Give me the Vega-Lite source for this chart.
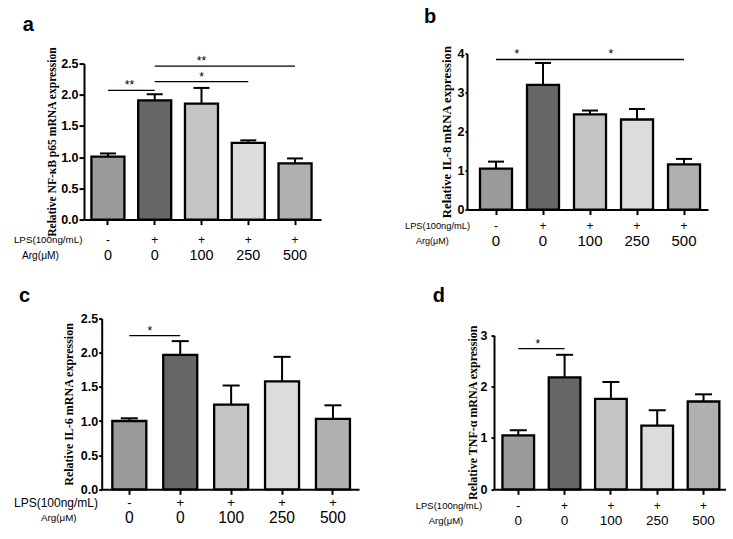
{
  "$schema": "https://vega.github.io/schema/vega-lite/v6.json",
  "padding": {"left": 13, "top": 6.6, "right": 0, "bottom": 0},
  "background": "white",
  "datasets": {
    "bars": [
      {"panel": "a", "cond": "-/0", "lps": "-", "arg": "0", "mean": 1.01, "upper": 1.06},
      {"panel": "a", "cond": "+/0", "lps": "+", "arg": "0", "mean": 1.91, "upper": 2.01},
      {"panel": "a", "cond": "+/100", "lps": "+", "arg": "100", "mean": 1.86, "upper": 2.11},
      {"panel": "a", "cond": "+/250", "lps": "+", "arg": "250", "mean": 1.23, "upper": 1.27},
      {"panel": "a", "cond": "+/500", "lps": "+", "arg": "500", "mean": 0.9, "upper": 0.98},
      {"panel": "b", "cond": "-/0", "lps": "-", "arg": "0", "mean": 1.05, "upper": 1.23},
      {"panel": "b", "cond": "+/0", "lps": "+", "arg": "0", "mean": 3.2, "upper": 3.76},
      {"panel": "b", "cond": "+/100", "lps": "+", "arg": "100", "mean": 2.44, "upper": 2.54},
      {"panel": "b", "cond": "+/250", "lps": "+", "arg": "250", "mean": 2.31, "upper": 2.58},
      {"panel": "b", "cond": "+/500", "lps": "+", "arg": "500", "mean": 1.16, "upper": 1.3},
      {"panel": "c", "cond": "-/0", "lps": "-", "arg": "0", "mean": 1.0, "upper": 1.04},
      {"panel": "c", "cond": "+/0", "lps": "+", "arg": "0", "mean": 1.97, "upper": 2.17},
      {"panel": "c", "cond": "+/100", "lps": "+", "arg": "100", "mean": 1.24, "upper": 1.52},
      {"panel": "c", "cond": "+/250", "lps": "+", "arg": "250", "mean": 1.58, "upper": 1.94},
      {"panel": "c", "cond": "+/500", "lps": "+", "arg": "500", "mean": 1.03, "upper": 1.23},
      {"panel": "d", "cond": "-/0", "lps": "-", "arg": "0", "mean": 1.05, "upper": 1.15},
      {"panel": "d", "cond": "+/0", "lps": "+", "arg": "0", "mean": 2.18, "upper": 2.62},
      {"panel": "d", "cond": "+/100", "lps": "+", "arg": "100", "mean": 1.76, "upper": 2.09},
      {"panel": "d", "cond": "+/250", "lps": "+", "arg": "250", "mean": 1.24, "upper": 1.54},
      {"panel": "d", "cond": "+/500", "lps": "+", "arg": "500", "mean": 1.71, "upper": 1.85}
    ],
    "sig": [
      {"panel": "a", "cond": "-/0", "cond2": "+/0", "yv": 2.07, "label": "**", "star": "-/0", "between": true},
      {"panel": "a", "cond": "+/0", "cond2": "+/250", "yv": 2.21, "label": "*", "star": "+/100", "between": false},
      {"panel": "a", "cond": "+/0", "cond2": "+/500", "yv": 2.46, "label": "**", "star": "+/100", "between": false},
      {"panel": "b", "cond": "-/0", "cond2": "+/0", "yv": 3.85, "label": "*", "star": "-/0", "between": true},
      {"panel": "b", "cond": "+/0", "cond2": "+/500", "yv": 3.85, "label": "*", "star": "+/100", "between": true},
      {"panel": "c", "cond": "-/0", "cond2": "+/0", "yv": 2.25, "label": "*", "star": "-/0", "between": true},
      {"panel": "d", "cond": "-/0", "cond2": "+/0", "yv": 2.74, "label": "*", "star": "-/0", "between": true}
    ],
    "heads": [
      {"panel": "a", "letter": "a", "lps": "LPS(100ng/mL)", "arg": "Arg(μM)"},
      {"panel": "b", "letter": "b", "lps": "LPS(100ng/mL)", "arg": "Arg(μM)"},
      {"panel": "c", "letter": "c", "lps": "LPS(100ng/mL)", "arg": "Arg(μM)"},
      {"panel": "d", "letter": "d", "lps": "LPS(100ng/mL)", "arg": "Arg(μM)"}
    ]
  },
  "align": "none",
  "spacing": 23,
  "vconcat": [
    {
      "align": "none",
      "spacing": 84,
      "hconcat": [
        {
          "width": 237,
          "height": 166,
          "resolve": {"axis": {"y": "independent"}},
          "layer": [
            {
              "data": {"name": "bars"},
              "transform": [{"filter": "datum.panel === 'a'"}],
              "resolve": {"axis": {"y": "independent"}},
              "layer": [
                {
                  "mark": {"type": "bar", "stroke": "black", "strokeWidth": 2.3},
                  "encoding": {
                    "x": {"field": "cond", "type": "nominal", "title": null,
                      "scale": {"domain": ["-/0", "+/0", "+/100", "+/250", "+/500"], "paddingInner": 0.294, "paddingOuter": 0.18, "align": 0.44},
                      "axis": {"labels": false, "tickSize": 5}},
                    "y": {"field": "mean", "type": "quantitative",
                      "scale": {"domain": [0, 2.5], "range": [166, 10], "nice": false},
                      "axis": {"title": "Relative NF-κB p65  mRNA expression", "values": [0, 0.5, 1, 1.5, 2, 2.5], "format": ".1f", "labelOverlap": false, "tickSize": 5, "labelPadding": 1, "titlePadding": 3, "titleFontSize": 11.6}},
                    "fill": {"field": "cond", "type": "nominal", "legend": null,
                      "scale": {"domain": ["-/0", "+/0", "+/100", "+/250", "+/500"], "range": ["#9a9a9a", "#666666", "#c4c4c4", "#dcdcdc", "#b0b0b0"]}}
                  }
                },
                {
                  "mark": {"type": "rule", "color": "black", "strokeWidth": 2},
                  "encoding": {"x": {"field": "cond", "type": "nominal"}, "y": {"field": "mean", "type": "quantitative", "axis": null}, "y2": {"field": "upper"}}
                },
                {
                  "mark": {"type": "tick", "color": "black", "size": 16, "thickness": 2, "opacity": 1},
                  "encoding": {"x": {"field": "cond", "type": "nominal"}, "y": {"field": "upper", "type": "quantitative", "axis": null}}
                },
                {
                  "mark": {"type": "text", "dy": 20.7, "fontSize": 12, "baseline": "middle"},
                  "encoding": {"x": {"field": "cond", "type": "nominal"}, "y": {"datum": 0, "axis": null}, "text": {"field": "lps"}}
                },
                {
                  "mark": {"type": "text", "dy": 36, "fontSize": 14.4, "baseline": "middle"},
                  "encoding": {"x": {"field": "cond", "type": "nominal"}, "y": {"datum": 0, "axis": null}, "text": {"field": "arg"}}
                }
              ]
            },
            {
              "data": {"name": "sig"},
              "transform": [{"filter": "datum.panel === 'a'"}],
              "resolve": {"axis": {"y": "independent"}},
              "layer": [
                {
                  "mark": {"type": "rule", "color": "black", "strokeWidth": 1.2},
                  "encoding": {"x": {"field": "cond", "type": "nominal"}, "x2": {"field": "cond2"}, "y": {"field": "yv", "type": "quantitative", "axis": null}}
                },
                {
                  "transform": [{"filter": "datum.between"}],
                  "mark": {"type": "text", "fontSize": 12, "baseline": "bottom", "dy": 2},
                  "encoding": {"x": {"field": "star", "type": "nominal", "bandPosition": 1.15}, "y": {"field": "yv", "type": "quantitative", "axis": null}, "text": {"field": "label"}}
                },
                {
                  "transform": [{"filter": "!datum.between"}],
                  "mark": {"type": "text", "fontSize": 12, "baseline": "bottom", "dy": 2},
                  "encoding": {"x": {"field": "star", "type": "nominal"}, "y": {"field": "yv", "type": "quantitative", "axis": null}, "text": {"field": "label"}}
                }
              ]
            },
            {
              "data": {"name": "heads"},
              "transform": [{"filter": "datum.panel === 'a'"}],
              "resolve": {"axis": {"y": "independent"}},
              "layer": [
                {
                  "mark": {"type": "text", "align": "left", "baseline": "alphabetic", "dx": -85.3, "dy": -32.3, "fontSize": 20, "fontWeight": "bold"},
                  "encoding": {"x": {"datum": "-/0"}, "y": {"datum": 2.5, "axis": null}, "text": {"field": "letter"}}
                },
                {
                  "mark": {"type": "text", "align": "left", "baseline": "middle", "dx": -94, "dy": 20.7, "fontSize": 9.8},
                  "encoding": {"x": {"datum": "-/0"}, "y": {"datum": 0, "axis": null}, "text": {"field": "lps"}}
                },
                {
                  "mark": {"type": "text", "align": "left", "baseline": "middle", "dx": -86, "dy": 36, "fontSize": 10.2},
                  "encoding": {"x": {"datum": "-/0"}, "y": {"datum": 0, "axis": null}, "text": {"field": "arg"}}
                }
              ]
            }
          ]
        },
        {
          "width": 241,
          "height": 156,
          "resolve": {"axis": {"y": "independent"}},
          "layer": [
            {
              "data": {"name": "bars"},
              "transform": [{"filter": "datum.panel === 'b'"}],
              "resolve": {"axis": {"y": "independent"}},
              "layer": [
                {
                  "mark": {"type": "bar", "stroke": "black", "strokeWidth": 2.3},
                  "encoding": {
                    "x": {"field": "cond", "type": "nominal", "title": null,
                      "scale": {"domain": ["-/0", "+/0", "+/100", "+/250", "+/500"], "paddingInner": 0.319, "paddingOuter": 0.223, "align": 0.62},
                      "axis": {"labels": false, "tickSize": 5}},
                    "y": {"field": "mean", "type": "quantitative",
                      "scale": {"domain": [0, 4], "nice": false},
                      "axis": {"title": "Relative IL-8 mRNA expression", "values": [0, 1, 2, 3, 4], "format": "d", "labelOverlap": false, "tickSize": 2, "labelPadding": 1, "titlePadding": 4, "titleFontSize": 12.7}},
                    "fill": {"field": "cond", "type": "nominal", "legend": null,
                      "scale": {"domain": ["-/0", "+/0", "+/100", "+/250", "+/500"], "range": ["#9a9a9a", "#666666", "#c4c4c4", "#dcdcdc", "#b0b0b0"]}}
                  }
                },
                {
                  "mark": {"type": "rule", "color": "black", "strokeWidth": 2},
                  "encoding": {"x": {"field": "cond", "type": "nominal"}, "y": {"field": "mean", "type": "quantitative", "axis": null}, "y2": {"field": "upper"}}
                },
                {
                  "mark": {"type": "tick", "color": "black", "size": 16, "thickness": 2, "opacity": 1},
                  "encoding": {"x": {"field": "cond", "type": "nominal"}, "y": {"field": "upper", "type": "quantitative", "axis": null}}
                },
                {
                  "mark": {"type": "text", "dy": 16.7, "fontSize": 12, "baseline": "middle"},
                  "encoding": {"x": {"field": "cond", "type": "nominal"}, "y": {"datum": 0, "axis": null}, "text": {"field": "lps"}}
                },
                {
                  "mark": {"type": "text", "dy": 31.7, "fontSize": 15, "baseline": "middle"},
                  "encoding": {"x": {"field": "cond", "type": "nominal"}, "y": {"datum": 0, "axis": null}, "text": {"field": "arg"}}
                }
              ]
            },
            {
              "data": {"name": "sig"},
              "transform": [{"filter": "datum.panel === 'b'"}],
              "resolve": {"axis": {"y": "independent"}},
              "layer": [
                {
                  "mark": {"type": "rule", "color": "black", "strokeWidth": 1.4},
                  "encoding": {"x": {"field": "cond", "type": "nominal"}, "x2": {"field": "cond2"}, "y": {"field": "yv", "type": "quantitative", "axis": null}}
                },
                {
                  "mark": {"type": "text", "fontSize": 12, "baseline": "bottom", "dy": 2},
                  "encoding": {"x": {"field": "star", "type": "nominal", "bandPosition": 1.15}, "y": {"field": "yv", "type": "quantitative", "axis": null}, "text": {"field": "label"}}
                }
              ]
            },
            {
              "data": {"name": "heads"},
              "transform": [{"filter": "datum.panel === 'b'"}],
              "resolve": {"axis": {"y": "independent"}},
              "layer": [
                {
                  "mark": {"type": "text", "align": "left", "baseline": "alphabetic", "dx": -72, "dy": -30.7, "fontSize": 20, "fontWeight": "bold"},
                  "encoding": {"x": {"datum": "-/0"}, "y": {"datum": 4, "axis": null}, "text": {"field": "letter"}}
                },
                {
                  "mark": {"type": "text", "align": "left", "baseline": "middle", "dx": -91, "dy": 16.7, "fontSize": 9.3},
                  "encoding": {"x": {"datum": "-/0"}, "y": {"datum": 0, "axis": null}, "text": {"field": "lps"}}
                },
                {
                  "mark": {"type": "text", "align": "left", "baseline": "middle", "dx": -80, "dy": 31.7, "fontSize": 9},
                  "encoding": {"x": {"datum": "-/0"}, "y": {"datum": 0, "axis": null}, "text": {"field": "arg"}}
                }
              ]
            }
          ]
        }
      ]
    },
    {
      "align": "none",
      "spacing": 56,
      "hconcat": [
        {
          "width": 275,
          "height": 170.7,
          "resolve": {"axis": {"y": "independent"}},
          "layer": [
            {
              "data": {"name": "bars"},
              "transform": [{"filter": "datum.panel === 'c'"}],
              "resolve": {"axis": {"y": "independent"}},
              "layer": [
                {
                  "mark": {"type": "bar", "stroke": "black", "strokeWidth": 2.3},
                  "encoding": {
                    "x": {"field": "cond", "type": "nominal", "title": null,
                      "scale": {"domain": ["-/0", "+/0", "+/100", "+/250", "+/500"], "range": [17.7, 275], "paddingInner": 0.332, "paddingOuter": 0.193, "align": 0.54},
                      "axis": {"labels": false, "tickSize": 5}},
                    "y": {"field": "mean", "type": "quantitative",
                      "scale": {"domain": [0, 2.5], "nice": false},
                      "axis": {"title": "Relative IL-6  mRNA expression", "values": [0, 0.5, 1, 1.5, 2, 2.5], "format": ".1f", "labelOverlap": false, "offset": -17.7, "tickSize": 3, "labelPadding": 1, "titlePadding": 5, "titleFontSize": 12}},
                    "fill": {"field": "cond", "type": "nominal", "legend": null,
                      "scale": {"domain": ["-/0", "+/0", "+/100", "+/250", "+/500"], "range": ["#9a9a9a", "#666666", "#c4c4c4", "#dcdcdc", "#b0b0b0"]}}
                  }
                },
                {
                  "mark": {"type": "rule", "color": "black", "strokeWidth": 2},
                  "encoding": {"x": {"field": "cond", "type": "nominal"}, "y": {"field": "mean", "type": "quantitative", "axis": null}, "y2": {"field": "upper"}}
                },
                {
                  "mark": {"type": "tick", "color": "black", "size": 17, "thickness": 2, "opacity": 1},
                  "encoding": {"x": {"field": "cond", "type": "nominal"}, "y": {"field": "upper", "type": "quantitative", "axis": null}}
                },
                {
                  "mark": {"type": "text", "dy": 13.3, "fontSize": 13, "baseline": "middle"},
                  "encoding": {"x": {"field": "cond", "type": "nominal"}, "y": {"datum": 0, "axis": null}, "text": {"field": "lps"}}
                },
                {
                  "mark": {"type": "text", "dy": 28.3, "fontSize": 15.6, "baseline": "middle"},
                  "encoding": {"x": {"field": "cond", "type": "nominal"}, "y": {"datum": 0, "axis": null}, "text": {"field": "arg"}}
                }
              ]
            },
            {
              "data": {"name": "sig"},
              "transform": [{"filter": "datum.panel === 'c'"}],
              "resolve": {"axis": {"y": "independent"}},
              "layer": [
                {
                  "mark": {"type": "rule", "color": "black", "strokeWidth": 1.2},
                  "encoding": {"x": {"field": "cond", "type": "nominal"}, "x2": {"field": "cond2"}, "y": {"field": "yv", "type": "quantitative", "axis": null}}
                },
                {
                  "mark": {"type": "text", "fontSize": 12, "baseline": "bottom", "dy": 2},
                  "encoding": {"x": {"field": "star", "type": "nominal", "bandPosition": 1.1}, "y": {"field": "yv", "type": "quantitative", "axis": null}, "text": {"field": "label"}}
                }
              ]
            },
            {
              "data": {"name": "heads"},
              "transform": [{"filter": "datum.panel === 'c'"}],
              "resolve": {"axis": {"y": "independent"}},
              "layer": [
                {
                  "mark": {"type": "text", "align": "left", "baseline": "alphabetic", "dx": -110.3, "dy": -16.6, "fontSize": 20, "fontWeight": "bold"},
                  "encoding": {"x": {"datum": "-/0"}, "y": {"datum": 2.5, "axis": null}, "text": {"field": "letter"}}
                },
                {
                  "mark": {"type": "text", "align": "left", "baseline": "middle", "dx": -115.3, "dy": 13.3, "fontSize": 12},
                  "encoding": {"x": {"datum": "-/0"}, "y": {"datum": 0, "axis": null}, "text": {"field": "lps"}}
                },
                {
                  "mark": {"type": "text", "align": "left", "baseline": "middle", "dx": -88.3, "dy": 28.3, "fontSize": 9.8},
                  "encoding": {"x": {"datum": "-/0"}, "y": {"datum": 0, "axis": null}, "text": {"field": "arg"}}
                }
              ]
            }
          ]
        },
        {
          "width": 232,
          "height": 170.7,
          "resolve": {"axis": {"y": "independent"}},
          "layer": [
            {
              "data": {"name": "bars"},
              "transform": [{"filter": "datum.panel === 'd'"}],
              "resolve": {"axis": {"y": "independent"}},
              "layer": [
                {
                  "mark": {"type": "bar", "stroke": "black", "strokeWidth": 2.3},
                  "encoding": {
                    "x": {"field": "cond", "type": "nominal", "title": null,
                      "scale": {"domain": ["-/0", "+/0", "+/100", "+/250", "+/500"], "paddingInner": 0.317, "paddingOuter": 0.163, "align": 0.56},
                      "axis": {"labels": false, "tickSize": 5}},
                    "y": {"field": "mean", "type": "quantitative",
                      "scale": {"domain": [0, 3], "range": [170.7, 16.7], "nice": false},
                      "axis": {"title": "Relative TNF-α mRNA expression", "values": [0, 1, 2, 3], "format": "d", "labelOverlap": false, "tickSize": 3, "labelPadding": 4, "titlePadding": 1, "titleFontSize": 12}},
                    "fill": {"field": "cond", "type": "nominal", "legend": null,
                      "scale": {"domain": ["-/0", "+/0", "+/100", "+/250", "+/500"], "range": ["#9a9a9a", "#666666", "#c4c4c4", "#dcdcdc", "#b0b0b0"]}}
                  }
                },
                {
                  "mark": {"type": "rule", "color": "black", "strokeWidth": 2},
                  "encoding": {"x": {"field": "cond", "type": "nominal"}, "y": {"field": "mean", "type": "quantitative", "axis": null}, "y2": {"field": "upper"}}
                },
                {
                  "mark": {"type": "tick", "color": "black", "size": 17, "thickness": 2, "opacity": 1},
                  "encoding": {"x": {"field": "cond", "type": "nominal"}, "y": {"field": "upper", "type": "quantitative", "axis": null}}
                },
                {
                  "mark": {"type": "text", "dy": 16.7, "fontSize": 12, "baseline": "middle"},
                  "encoding": {"x": {"field": "cond", "type": "nominal"}, "y": {"datum": 0, "axis": null}, "text": {"field": "lps"}}
                },
                {
                  "mark": {"type": "text", "dy": 31.7, "fontSize": 13.5, "baseline": "middle"},
                  "encoding": {"x": {"field": "cond", "type": "nominal"}, "y": {"datum": 0, "axis": null}, "text": {"field": "arg"}}
                }
              ]
            },
            {
              "data": {"name": "sig"},
              "transform": [{"filter": "datum.panel === 'd'"}],
              "resolve": {"axis": {"y": "independent"}},
              "layer": [
                {
                  "mark": {"type": "rule", "color": "black", "strokeWidth": 1.2},
                  "encoding": {"x": {"field": "cond", "type": "nominal"}, "x2": {"field": "cond2"}, "y": {"field": "yv", "type": "quantitative", "axis": null}}
                },
                {
                  "mark": {"type": "text", "fontSize": 12, "baseline": "bottom", "dy": 2},
                  "encoding": {"x": {"field": "star", "type": "nominal", "bandPosition": 1.12}, "y": {"field": "yv", "type": "quantitative", "axis": null}, "text": {"field": "label"}}
                }
              ]
            },
            {
              "data": {"name": "heads"},
              "transform": [{"filter": "datum.panel === 'd'"}],
              "resolve": {"axis": {"y": "independent"}},
              "layer": [
                {
                  "mark": {"type": "text", "align": "left", "baseline": "alphabetic", "dx": -85.5, "dy": -33, "fontSize": 20, "fontWeight": "bold"},
                  "encoding": {"x": {"datum": "-/0"}, "y": {"datum": 3, "axis": null}, "text": {"field": "letter"}}
                },
                {
                  "mark": {"type": "text", "align": "left", "baseline": "middle", "dx": -102.5, "dy": 16.7, "fontSize": 9.5},
                  "encoding": {"x": {"datum": "-/0"}, "y": {"datum": 0, "axis": null}, "text": {"field": "lps"}}
                },
                {
                  "mark": {"type": "text", "align": "left", "baseline": "middle", "dx": -89.5, "dy": 31.7, "fontSize": 9.5},
                  "encoding": {"x": {"datum": "-/0"}, "y": {"datum": 0, "axis": null}, "text": {"field": "arg"}}
                }
              ]
            }
          ]
        }
      ]
    }
  ],
  "config": {
    "view": {"stroke": null},
    "text": {"font": "Liberation Sans", "color": "black"},
    "axis": {"domainColor": "black", "tickColor": "black", "domainWidth": 2, "tickWidth": 2, "grid": false, "labelColor": "black", "titleColor": "black"},
    "axisY": {"labelFont": "Liberation Sans", "labelFontWeight": "bold", "labelFontSize": 12.5, "titleFont": "Liberation Serif", "titleFontWeight": "bold", "titleFontSize": 11}
  }
}
